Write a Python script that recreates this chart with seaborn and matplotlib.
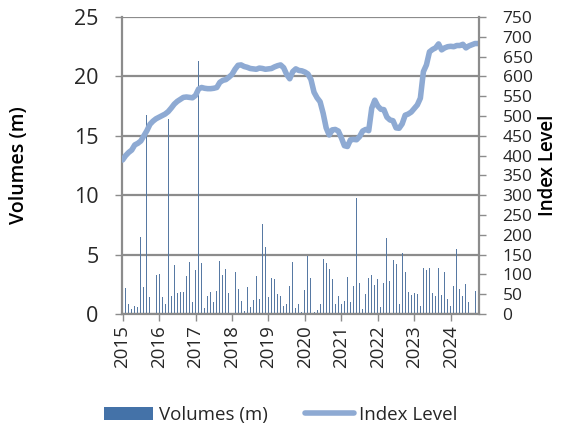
import numpy as np
import pandas as pd
import seaborn as sns
import matplotlib.pyplot as plt
from matplotlib.patches import Patch
from matplotlib.lines import Line2D

# monthly volumes (m), Jan 2015 - Sep 2024
volumes = [
    0.3, 2.2, 0.8, 0.45, 0.7, 0.55, 6.5, 2.3, 16.75, 1.45, 0.8, 3.25,
    3.35, 1.4, 0.8, 16.4, 1.5, 4.1, 1.8, 1.85, 1.85, 3.2, 4.4, 1.0,
    3.7, 21.3, 4.3, 0.5, 1.55, 1.85, 1.05, 1.95, 4.5, 3.3, 3.8, 1.75,
    5.45, 3.5, 2.1, 1.1, 0.25, 2.3, 0.6, 1.2, 3.2, 1.3, 7.6, 5.65,
    1.4, 3.05, 2.95, 1.7, 1.55, 0.65, 0.85, 2.35, 4.4, 0.5, 0.85, 0.2,
    2.0, 4.9, 3.05, 0.2, 0.35, 0.85, 4.65, 4.3, 3.75, 2.95, 0.85, 1.5,
    0.85, 1.1, 3.1, 1.0, 2.35, 9.75, 2.65, 0.4, 1.7, 3.0, 3.3, 2.4,
    2.95, 0.6, 2.65, 6.4, 2.8, 4.55, 4.2, 0.8, 5.1, 3.5, 1.85, 1.6,
    1.75, 1.7, 0.7, 3.85, 3.7, 3.85, 1.8, 1.5, 3.85, 1.6, 3.5, 1.25,
    0.7, 2.35, 5.5, 2.1, 1.55, 2.5, 1.0, 1.1, 1.95,
]

# index level, Jan 2015 - Oct 2024
index_level = [
    389, 400, 408, 414, 427, 431, 437, 450, 463, 479, 487, 493,
    497, 501, 505, 511, 520, 530, 537, 542, 547, 548, 547, 546,
    552, 568, 572, 570, 569, 569, 570, 572, 585, 590, 592, 598,
    605, 618, 628, 629, 625, 623, 620, 619, 618, 621, 620, 618,
    619, 620, 624, 627, 629, 622, 605, 594, 612, 619, 615, 614,
    611, 606, 592, 560, 546, 536, 507, 470, 452, 465, 466, 462,
    445, 425, 423, 440, 441, 440, 448, 462, 466, 463, 520, 540,
    525, 517, 516, 497, 490, 488, 470, 469, 480, 502, 505, 510,
    519, 528, 545, 612, 629, 662, 668, 672, 682, 667, 672, 675,
    676, 675, 678, 678, 681, 672, 677, 680, 683, 683,
]

years = [str(y) for y in range(2015, 2025)]

bar_df = pd.DataFrame({'month': np.arange(len(volumes)), 'volume': volumes})
line_df = pd.DataFrame({'month': np.arange(len(index_level)), 'level': index_level})

plt.rcParams['font.family'] = ['Open Sans', 'DejaVu Sans']
grey = '#8c8c8c'
text_color = '#262626'
bar_color = '#4a77b0'
line_color = '#8eaad3'

fig = plt.figure(figsize=(5.62, 4.32), dpi=100)
ax = fig.add_axes([122 / 562, 118 / 432, 357 / 562, 297 / 432])

sns.barplot(data=bar_df, x='month', y='volume', color=bar_color, width=0.32,
            native_scale=True, ax=ax, zorder=2)
ax.set_ylim(0, 25)
ax.set_yticks(range(0, 26, 5))
ax.set_xlim(-0.2, 117.3)
ax.set_xticks(range(0, 120, 12))
ax.set_xticklabels(years, rotation=90, fontsize=13.5, color=text_color)
ax.yaxis.grid(True, color=grey, linewidth=1.6, zorder=0)
ax.set_axisbelow(True)
ax.set_xlabel('')
ax.set_ylabel('Volumes (m)', fontsize=14, fontweight='semibold', labelpad=32,
              color='black')
ax.tick_params(axis='y', labelsize=15.5, labelcolor=text_color, length=5,
               color=grey, width=1, pad=12)
ax.tick_params(axis='x', length=5, color=grey, width=1, pad=3)
for side in ['top', 'right']:
    ax.spines[side].set_visible(False)
for side in ['left', 'bottom']:
    ax.spines[side].set_color(grey)
    ax.spines[side].set_linewidth(1.6)

ax2 = ax.twinx()
sns.lineplot(data=line_df, x='month', y='level', color=line_color, linewidth=4,
             ax=ax2, solid_capstyle='round')
ax2.set_ylim(0, 750)
ax2.set_yticks(range(0, 751, 50))
ax2.set_xlim(-0.2, 117.3)
ax2.set_ylabel('Index Level', fontsize=13.5, fontweight='semibold', labelpad=4,
               color='black')
ax2.tick_params(axis='y', labelsize=12.5, labelcolor=text_color, length=5,
                color=grey, width=1, pad=12)
ax2.grid(False)
for side in ['top', 'left', 'bottom']:
    ax2.spines[side].set_visible(False)
ax2.spines['right'].set_color(grey)
ax2.spines['right'].set_linewidth(1.6)

handles = [Patch(facecolor='#4472a8', edgecolor='none'),
           Line2D([0], [0], color=line_color, linewidth=4, solid_capstyle='round')]
fig.legend(handles, ['Volumes (m)', 'Index Level'], loc='lower center',
           bbox_to_anchor=(0.5, -0.02), ncol=2, frameon=False, fontsize=13.5,
           handlelength=2.6, handletextpad=0.3, columnspacing=2.0,
           labelcolor=text_color)

fig.savefig('out.png', dpi=100)
